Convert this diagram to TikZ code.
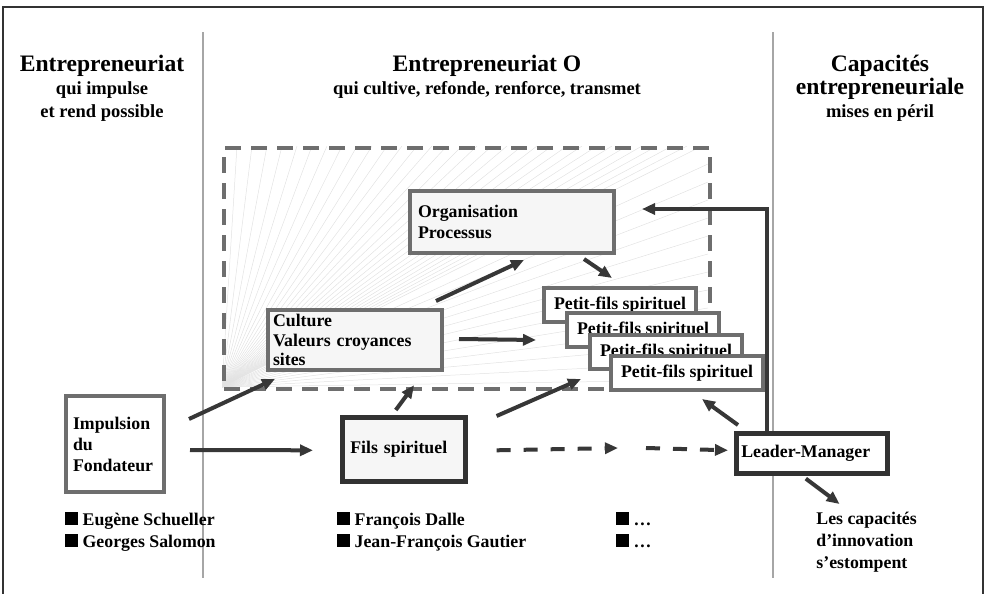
\documentclass[tikz,border=0pt]{standalone}
\usepackage{fontspec}
\setmainfont{Liberation Serif}
\usepackage{xcolor}
\usepackage{tikz}
\usetikzlibrary{arrows.meta,positioning,calc}

\definecolor{boxgray}{RGB}{110,110,110}
\definecolor{boxdark}{RGB}{50,50,50}
\definecolor{arrowdark}{RGB}{55,55,55}
\definecolor{raygray}{RGB}{226,226,226}
\newcommand{\titlefont}{\fontsize{11.8}{11.5}\selectfont}
\newcommand{\sq}{\rule{6.4pt}{6.4pt}}

\tikzset{
  txt/.style={font=\fontsize{8.9}{11}\selectfont\bfseries, inner sep=0pt},
  head/.style={font=\fontsize{9.25}{11.5}\selectfont\bfseries, inner sep=0pt, align=center, anchor=north},
  grbox/.style={draw=boxgray, line width=2pt, anchor=north west, inner xsep=4pt, inner ysep=0pt,
    align=left, font=\fontsize{8.9}{10.5}\selectfont\bfseries},
  dkbox/.style={grbox, draw=boxdark, line width=2.3pt},
  pfbox/.style={draw=boxgray, fill=white, line width=2pt, anchor=north west, minimum width=76pt,
    minimum height=17pt, inner sep=0pt, font=\fontsize{8.9}{10.5}\selectfont\bfseries},
  arr/.style={draw=arrowdark, line width=2pt, -{Triangle[length=6.5pt,width=5.5pt]}},
  dasharr/.style={arr, dash pattern=on 7pt off 6.5pt},
  zone/.style={draw=boxgray, line width=2.1pt, dash pattern=on 8pt off 5pt, anchor=north west,
    minimum width=243pt, minimum height=120.5pt, inner sep=0pt},
  ray/.style={draw=raygray, line width=0.25pt},
  divider/.style={draw=gray!70, line width=1.2pt}
}

\begin{document}
\begin{tikzpicture}[x=0.5pt,y=-0.5pt]
  \useasboundingbox (0,0) rectangle (986,594);

  % frame and columns
  \draw[draw=gray!40!black, line width=0.8pt] (3,594) -- (3,7) -- (983,7) -- (983,594);
  \draw[divider] (203,32) -- (203,578);
  \draw[divider] (773,32) -- (773,578);

  % column headings
  \node[head] (hleft) at (102,55) {{\titlefont Entrepreneuriat}\\qui impulse\\et rend possible};
  \node[head] (hmid) at (487,55) {{\titlefont Entrepreneuriat O}\\qui cultive, refonde, renforce, transmet};
  \node[head] (hright) at (880,55) {{\titlefont Capacités}\\{\titlefont entrepreneuriale}\\mises en péril};

  % rays of the organisation zone
  \begin{scope}
    \clip (222,146) rectangle (708,387);
    \foreach \x in {237,252,...,708} {
      \draw[ray] (222,387) -- (\x,146);
    }
    \foreach \y in {164,182,...,380} {
      \draw[ray] (222,387) -- (708,\y);
    }
  \end{scope}
  \node[zone] (zone) at (222,146) {};

  % boxes
  \node[grbox, fill=white, inner xsep=3.5pt, text width=42pt, minimum height=48pt] (impulsion) at (64,394)
    {Impulsion\\du\\Fondateur};
  \node[grbox, fill=gray!7, inner xsep=2.5pt, text width=82pt, minimum height=30pt,
    font=\fontsize{8.9}{9.75}\selectfont\bfseries] (culture) at (266,308)
    {Culture\\Valeurs croyances\\sites};
  \node[grbox, fill=gray!7, text width=94pt, minimum height=31pt] (organisation) at (408,189)
    {Organisation\\Processus};
  \node[dkbox, fill=gray!7, text width=53.5pt, minimum height=32pt] (fils) at (340,415) {Fils spirituel};
  \node[dkbox, fill=white, inner xsep=2.5pt, text width=70.5pt, minimum height=20pt] (leader) at (734,431)
    {Leader-Manager};
  \foreach \i/\x/\y in {1/542/286,2/565/311,3/588/333,4/609/354} {
    \node[pfbox] (pf\i) at (\x,\y) {Petit-fils spirituel};
  }

  % names and remarks
  \node[txt, anchor=north west, align=left] (fondateurs) at (65,512) {\sq\ Eugène Schueller\\\sq\ Georges Salomon};
  \node[txt, anchor=north west, align=left] (heritiers) at (337,512) {\sq\ François Dalle\\\sq\ Jean-François Gautier};
  \node[txt, anchor=north west, align=left] (suite) at (616,512) {\sq\ …\\\sq\ …};
  \node[txt, anchor=north west, align=left] (fading) at (816,512) {Les capacités\\d’innovation\\s’estompent};

  % connectors
  \coordinate (relay) at (632,448);
  \draw[arr] ($(impulsion.east)+(23,-25)$) -- ($(culture.south west)+(9,7)$);
  \draw[arr] ($(impulsion.east)+(24,6)$) -- ($(fils.west)+(-27,1)$);
  \draw[arr] ($(fils.north)+(-8,-5)$) -- ($(zone.south)+(-53,-6)$);
  \draw[arr] ($(culture.north east)+(-8,-7)$) -- ($(organisation.south)+(12,5)$);
  \draw[arr] ($(culture.east)+(15,-1)$) -- ($(pf1.south west)+(-6,16)$);
  \draw[arr] ($(organisation.south east)+(-32,4)$) -- ($(pf1.north)+(-8,-8)$);
  \draw[arr] ($(fils.north east)+(29,1)$) -- ($(pf3.south west)+(-7,8)$);
  \draw[dasharr] ($(fils.east)+(29,1)$) -- ($(relay)+(-14,0)$);
  \draw[dasharr] ($(relay)+(14,0)$) -- ($(leader.west)+(-6,-3)$);
  \draw[arr] ($(leader.north west)+(4,-6)$) -- ($(pf4.south)+(15,7)$);
  \draw[arr] ($(leader.north west)+(33,0)$) |- ($(organisation.east)+(26,-13)$);
  \draw[arr] ($(leader.south)+(-6,3)$) -- ($(fading.north)+(-27,-8)$);
\end{tikzpicture}
\end{document}
